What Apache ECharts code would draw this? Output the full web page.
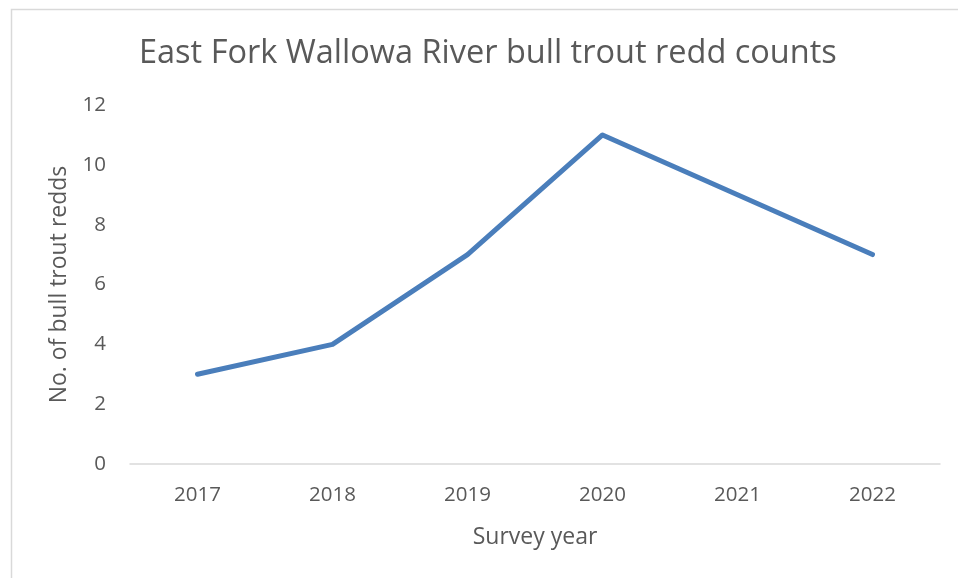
<!DOCTYPE html>
<html><head><meta charset="utf-8">
<script src="https://cdn.jsdelivr.net/npm/echarts@6/dist/echarts.min.js"></script>
<style>html,body{margin:0;padding:0;background:#fff}#c{width:958px;height:578px}</style>
</head><body><div id="c"></div>
<script>
const categories = ['2017','2018','2019','2020','2021','2022'];
const redds = [3, 4, 7, 11, 9, 7];
const yTicks = [0, 2, 4, 6, 8, 10, 12];
const titleText = 'East Fork Wallowa River bull trout redd counts';
const xName = 'Survey year';
const yName = 'No. of bull trout redds';

const FONT = '"Open Sans", "Liberation Sans", sans-serif';
const chart = echarts.init(document.getElementById('c'), null, {renderer:'canvas'});
chart.setOption({
  animation: false,
  backgroundColor: '#fff',
  graphic: [{
    type: 'rect', left: 9, top: 7,
    shape: {width: 1000, height: 1000},
    style: {fill: 'none', stroke: '#d9d9d9', lineWidth: 1.5},
    z: -1
  }],
  title: {
    text: titleText, left: 134, top: 32,
    textStyle: {fontFamily: FONT, fontSize: 32.5, fontWeight: 'normal', color: '#595959'}
  },
  grid: {left: 130, right: 18, top: 105, bottom: 114, containLabel: false},
  xAxis: {
    type: 'category', data: categories, boundaryGap: true,
    name: xName, nameLocation: 'middle', nameGap: 62,
    nameTextStyle: {fontFamily: FONT, fontSize: 23, color: '#595959'},
    axisLine: {show: true, lineStyle: {color: '#d9d9d9', width: 1.5}},
    axisTick: {show: false},
    axisLabel: {fontFamily: FONT, fontSize: 20.5, color: '#595959', margin: 21}
  },
  yAxis: {
    type: 'value', min: yTicks[0], max: yTicks[yTicks.length-1], interval: 2,
    name: yName, nameLocation: 'middle', nameGap: 59,
    nameTextStyle: {fontFamily: FONT, fontSize: 23, color: '#595959'},
    axisLine: {show: false}, axisTick: {show: false},
    splitLine: {show: false},
    axisLabel: {fontFamily: FONT, fontSize: 20.5, color: '#595959', margin: 24}
  },
  series: [{
    type: 'line', data: redds, symbol: 'none',
    lineStyle: {color: '#4a7ebb', width: 5, cap: 'round', join: 'round'}
  }]
});
</script></body></html>
